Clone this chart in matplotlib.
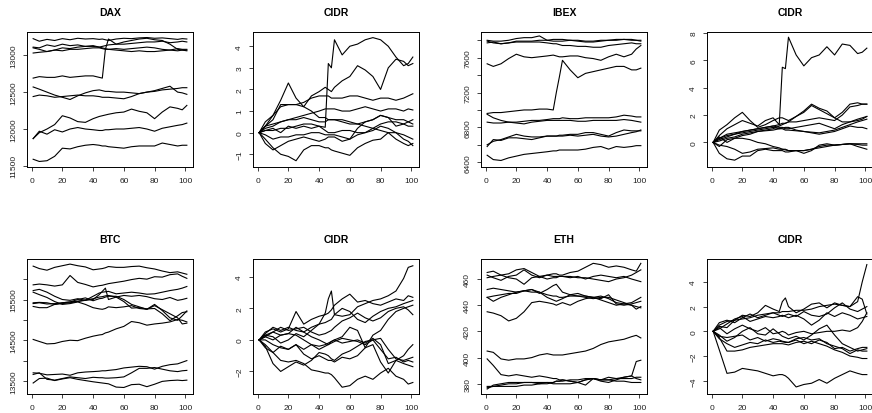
import matplotlib
matplotlib.use("Agg")
import matplotlib.pyplot as plt

plt.rcParams["font.family"] = ["Liberation Sans", "DejaVu Sans"]

# shared time index (sampled from the 1..101 steps)
X = [1, 5, 10, 15, 20, 25, 30, 35, 40, 44, 46, 48, 50, 55, 60, 65, 70, 75, 80, 85, 90, 95, 98, 101]

DAX = [
    [13225, 13190, 13215, 13200, 13225, 13210, 13230, 13220, 13225, 13215, 13220, 13210, 13200, 13220, 13230, 13225, 13235, 13240, 13230, 13235, 13225, 13215, 13225, 13220],
    [13110, 13100, 13140, 13120, 13150, 13130, 13140, 13120, 13130, 13110, 13120, 13130, 13140, 13150, 13150, 13160, 13170, 13180, 13180, 13190, 13170, 13180, 13190, 13180],
    [13100, 13080, 13050, 13070, 13100, 13090, 13110, 13120, 13120, 13110, 13100, 13090, 13080, 13070, 13060, 13050, 13060, 13050, 13050, 13060, 13070, 13090, 13080, 13080],
    [13030, 13040, 13050, 13070, 13060, 13080, 13080, 13090, 13100, 13100, 13090, 13080, 13080, 13090, 13080, 13090, 13100, 13110, 13100, 13080, 13070, 13060, 13070, 13060],
    [12690, 12710, 12700, 12700, 12720, 12700, 12710, 12720, 12720, 12700, 12690, 13080, 13220, 13150, 13180, 13200, 13220, 13230, 13210, 13200, 13150, 13080, 13070, 13070],
    [12570, 12540, 12500, 12460, 12430, 12400, 12450, 12490, 12520, 12530, 12520, 12510, 12510, 12500, 12500, 12490, 12480, 12500, 12520, 12550, 12580, 12500, 12490, 12470],
    [12440, 12460, 12450, 12430, 12440, 12450, 12460, 12450, 12450, 12440, 12430, 12430, 12430, 12420, 12410, 12440, 12480, 12500, 12510, 12530, 12540, 12550, 12560, 12560],
    [11870, 11950, 12000, 12060, 12180, 12150, 12100, 12090, 12140, 12170, 12180, 12190, 12200, 12220, 12230, 12270, 12240, 12220, 12140, 12230, 12300, 12280, 12260, 12320],
    [11870, 11970, 11930, 11990, 11960, 12000, 12020, 12000, 11990, 11980, 11980, 11990, 11990, 12000, 12000, 12010, 12020, 12000, 11970, 12010, 12030, 12050, 12060, 12080],
    [11590, 11560, 11570, 11630, 11740, 11730, 11760, 11780, 11790, 11780, 11770, 11770, 11760, 11750, 11740, 11760, 11770, 11770, 11770, 11810, 11790, 11770, 11780, 11780],
]

CIDR_DAX = [
    [0, 0.1, 0.2, 0.0, 0.3, 0.2, 0.3, 0.2, 0.3, 0.25, 3.2, 3.0, 4.3, 3.6, 4.0, 4.1, 4.3, 4.4, 4.3, 4.0, 3.5, 3.1, 3.2, 3.5],
    [0, 0.5, 0.8, 1.5, 2.3, 1.6, 1.2, 1.0, 0.7, 0.7, 0.6, 0.6, 0.6, 0.6, 0.5, 0.4, 0.3, 0.2, 0.1, 0.0, -0.3, -0.5, -0.6, -0.5],
    [0, 0.3, 0.8, 1.2, 1.3, 1.3, 1.2, 1.7, 1.9, 2.1, 2.0, 1.9, 2.1, 2.4, 2.6, 3.1, 2.9, 2.6, 2.0, 3.0, 3.4, 3.3, 3.1, 3.2],
    [0, 0.3, 0.6, 1.3, 1.3, 1.3, 1.4, 1.6, 1.7, 1.7, 1.7, 1.6, 1.6, 1.6, 1.7, 1.7, 1.6, 1.5, 1.6, 1.6, 1.5, 1.6, 1.7, 1.8],
    [0, 0.2, 0.3, 0.5, 0.6, 0.7, 0.8, 0.9, 1.0, 1.1, 1.1, 1.1, 1.1, 1.0, 1.0, 1.1, 1.2, 1.1, 1.0, 1.1, 1.1, 1.0, 1.1, 1.05],
    [0, 0.3, 0.4, 0.5, 0.6, 0.6, 0.7, 0.6, 0.5, 0.5, 0.6, 0.6, 0.6, 0.5, 0.4, 0.4, 0.5, 0.6, 0.8, 0.7, 0.6, 0.6, 0.5, 0.6],
    [0, 0.1, 0.1, 0.2, 0.2, 0.3, 0.4, 0.4, 0.3, 0.1, 0.0, 0.0, 0.0, 0.1, 0.1, 0.0, 0.0, 0.2, 0.4, 0.5, 0.5, 0.4, 0.3, 0.3],
    [0, -0.1, -0.3, -0.2, -0.2, -0.1, -0.1, 0.0, 0.0, -0.1, -0.1, -0.1, -0.1, -0.2, -0.3, -0.1, 0.0, 0.1, 0.3, 0.2, 0.0, -0.1, -0.2, -0.3],
    [0, -0.3, -0.7, -1.0, -1.1, -1.3, -0.8, -0.6, -0.6, -0.7, -0.7, -0.8, -0.85, -0.95, -1.05, -0.7, -0.5, -0.35, -0.3, 0.0, 0.0, -0.3, -0.4, -0.6],
    [0, -0.5, -0.8, -0.6, -0.4, -0.3, -0.2, -0.3, -0.4, -0.3, -0.2, -0.2, -0.2, -0.4, -0.3, 0.2, 0.5, 0.6, 0.8, 0.7, 0.3, 0.4, 0.5, 0.4],
]

IBEX = [
    [7800, 7790, 7790, 7800, 7820, 7830, 7830, 7850, 7800, 7810, 7810, 7810, 7810, 7800, 7790, 7780, 7780, 7790, 7800, 7800, 7810, 7810, 7800, 7800],
    [7770, 7780, 7760, 7770, 7790, 7790, 7790, 7800, 7800, 7790, 7790, 7790, 7790, 7800, 7800, 7790, 7790, 7800, 7800, 7810, 7810, 7800, 7800, 7790],
    [7790, 7770, 7760, 7770, 7780, 7780, 7780, 7780, 7770, 7760, 7760, 7750, 7740, 7740, 7730, 7730, 7720, 7720, 7740, 7750, 7760, 7770, 7760, 7760],
    [7530, 7500, 7530, 7590, 7640, 7610, 7600, 7610, 7620, 7630, 7620, 7610, 7610, 7620, 7620, 7600, 7590, 7570, 7610, 7640, 7610, 7640, 7700, 7740],
    [6960, 6970, 6970, 6980, 6990, 7000, 7000, 7010, 7010, 7000, 7200, 7380, 7570, 7460, 7370, 7420, 7440, 7460, 7480, 7500, 7500, 7460, 7460, 7480],
    [6950, 6910, 6880, 6860, 6850, 6840, 6860, 6870, 6880, 6880, 6880, 6880, 6880, 6880, 6870, 6870, 6880, 6880, 6880, 6880, 6890, 6880, 6870, 6860],
    [6860, 6850, 6850, 6860, 6860, 6870, 6880, 6880, 6890, 6900, 6900, 6900, 6910, 6900, 6900, 6910, 6910, 6910, 6910, 6920, 6940, 6930, 6920, 6920],
    [6600, 6640, 6660, 6690, 6720, 6700, 6690, 6690, 6700, 6700, 6700, 6710, 6710, 6720, 6720, 6740, 6740, 6720, 6700, 6740, 6770, 6760, 6760, 6760],
    [6580, 6660, 6650, 6680, 6680, 6670, 6660, 6680, 6700, 6700, 6700, 6700, 6700, 6710, 6700, 6710, 6720, 6700, 6690, 6700, 6720, 6740, 6750, 6770],
    [6480, 6430, 6420, 6450, 6470, 6490, 6500, 6510, 6520, 6530, 6530, 6540, 6540, 6540, 6540, 6550, 6570, 6580, 6550, 6580, 6570, 6580, 6590, 6590],
]

CIDR_IBEX = [
    [0, 0.5, 1.0, 1.3, 1.6, 1.4, 1.2, 1.6, 1.8, 1.3, 5.5, 5.4, 7.7, 6.4, 5.6, 6.2, 6.4, 7.0, 6.4, 7.2, 7.1, 6.5, 6.6, 6.9],
    [0, 0.9, 1.3, 1.8, 2.2, 1.6, 1.1, 1.3, 1.6, 1.8, 1.8, 1.7, 1.6, 1.9, 2.3, 2.8, 2.5, 2.3, 1.8, 2.2, 2.8, 2.9, 2.8, 2.8],
    [0, 0.3, 0.6, 0.7, 0.8, 0.9, 1.0, 1.1, 1.2, 1.3, 1.4, 1.4, 1.5, 1.5, 1.6, 1.7, 1.8, 1.7, 1.6, 2.0, 2.6, 2.7, 2.8, 2.8],
    [0, 0.2, 0.4, 0.6, 0.8, 0.9, 1.0, 1.1, 1.2, 1.1, 1.1, 1.0, 1.0, 1.1, 1.2, 1.3, 1.4, 1.2, 1.0, 1.3, 1.5, 1.7, 1.8, 1.9],
    [0, 0.3, 0.5, 0.6, 0.7, 0.8, 0.9, 1.0, 1.1, 1.0, 1.0, 0.9, 0.9, 0.85, 0.8, 0.75, 0.7, 0.8, 0.9, 1.1, 1.3, 1.5, 1.6, 1.7],
    [0, 0.1, 0.3, 0.4, 0.6, 0.7, 0.8, 0.85, 0.9, 1.0, 1.05, 1.1, 1.1, 0.9, 0.8, 0.7, 0.6, 0.7, 0.8, 1.0, 1.2, 1.1, 1.1, 1.0],
    [0, -0.3, 0.2, 0.3, 0.3, 0.2, 0.0, -0.1, -0.3, -0.4, -0.5, -0.5, -0.6, -0.6, -0.6, -0.5, -0.3, -0.2, -0.2, -0.15, -0.1, -0.1, -0.1, -0.1],
    [0, -0.8, -1.2, -1.3, -1.0, -1.0, -0.6, -0.5, -0.6, -0.6, -0.6, -0.7, -0.7, -0.6, -0.8, -0.6, -0.2, -0.1, -0.2, -0.15, -0.1, -0.3, -0.4, -0.5],
    [0, -0.2, -0.3, -0.5, -0.8, -0.7, -0.5, -0.45, -0.4, -0.5, -0.5, -0.55, -0.6, -0.6, -0.6, -0.5, -0.4, -0.3, -0.2, -0.15, -0.1, -0.15, -0.2, -0.2],
    [0, 0.4, 0.0, 0.3, 0.5, 0.6, 0.8, 0.9, 1.0, 1.2, 1.3, 1.4, 1.5, 1.9, 2.2, 2.7, 2.4, 2.1, 1.8, 1.5, 1.5, 1.6, 1.7, 1.9],
]

BTC = [
    [16320, 16260, 16220, 16290, 16330, 16370, 16330, 16300, 16230, 16250, 16260, 16280, 16310, 16290, 16290, 16310, 16320, 16280, 16250, 16200, 16160, 16180, 16150, 16120],
    [15860, 15880, 15860, 15830, 15860, 16090, 15920, 15870, 15810, 15840, 15850, 15870, 15890, 15920, 15950, 15990, 16020, 16000, 16060, 16050, 16110, 16130, 16070, 16020],
    [15720, 15750, 15680, 15580, 15500, 15480, 15520, 15480, 15580, 15660, 15680, 15690, 15700, 15640, 15660, 15680, 15660, 15630, 15640, 15680, 15720, 15750, 15780, 15820],
    [15400, 15420, 15390, 15400, 15420, 15440, 15460, 15490, 15520, 15560, 15570, 15590, 15600, 15560, 15600, 15580, 15600, 15570, 15520, 15500, 15550, 15480, 15500, 15530],
    [15330, 15300, 15300, 15380, 15400, 15420, 15450, 15480, 15500, 15620, 15700, 15780, 15500, 15560, 15450, 15290, 15300, 15270, 15280, 15150, 14980, 15100, 15180, 15200],
    [15420, 15430, 15420, 15380, 15420, 15440, 15500, 15540, 15470, 15520, 15530, 15560, 15580, 15580, 15500, 15380, 15320, 15260, 15350, 15250, 15150, 15050, 14900, 14920],
    [15680, 15620, 15550, 15450, 15380, 15400, 15440, 15380, 15300, 15270, 15260, 15280, 15320, 15300, 15320, 15350, 15280, 15260, 15380, 15230, 15050, 14990, 15100, 15220],
    [14520, 14470, 14410, 14420, 14470, 14500, 14490, 14550, 14600, 14630, 14640, 14680, 14700, 14780, 14840, 14960, 14930, 14870, 14900, 14920, 14950, 15010, 14990, 14950],
    [13700, 13690, 13650, 13660, 13670, 13640, 13700, 13720, 13730, 13740, 13750, 13750, 13760, 13780, 13820, 13840, 13860, 13850, 13790, 13860, 13900, 13920, 13960, 14000],
    [13660, 13700, 13540, 13520, 13560, 13600, 13580, 13560, 13590, 13580, 13580, 13570, 13570, 13580, 13600, 13700, 13810, 13810, 13830, 13790, 13750, 13730, 13750, 13760],
    [13450, 13560, 13570, 13510, 13550, 13580, 13540, 13510, 13480, 13460, 13450, 13440, 13430, 13350, 13340, 13410, 13420, 13360, 13420, 13490, 13510, 13520, 13510, 13520],
]

CIDR_BTC = [
    [0, 0.4, 0.8, 0.6, 0.8, 0.6, 0.5, 0.8, 1.0, 1.1, 1.2, 1.3, 1.6, 1.5, 1.6, 2.1, 2.3, 2.5, 2.6, 2.8, 3.1, 3.9, 4.6, 4.7],
    [0, 0.3, 0.2, -0.2, 0.0, 0.4, 0.2, 0.6, 1.0, 1.7, 2.6, 3.1, 1.6, 2.0, 1.8, 1.3, 1.1, 1.5, 1.8, 2.0, 2.1, 2.3, 2.4, 2.5],
    [0, 0.5, 0.7, 0.5, 0.7, 1.8, 1.0, 1.3, 1.5, 1.6, 1.7, 1.9, 2.2, 2.6, 2.9, 2.4, 2.5, 2.3, 2.2, 2.4, 2.6, 2.5, 2.8, 2.7],
    [0, 0.2, 0.5, 0.8, 0.6, 0.7, 0.8, 0.5, 0.3, 0.4, 0.5, 0.6, 0.8, 1.2, 1.4, 1.7, 1.4, 1.2, 1.4, 1.8, 2.0, 2.1, 1.9, 1.6],
    [0, 0.3, 0.5, 0.3, 0.4, 0.8, 0.5, 0.2, 0.0, -0.2, -0.3, -0.1, 0.0, 0.2, 0.8, 0.6, -0.5, 0.3, 0.6, 1.3, 1.8, 2.0, 2.1, 2.2],
    [0, 0.0, -0.3, -0.5, -0.6, -0.3, -0.6, -0.3, -0.4, -0.3, -0.2, -0.1, 0.0, -0.2, -0.1, 0.0, -0.2, 0.1, -0.3, -1.5, -1.3, -1.0, -0.6, -0.3],
    [0, 0.2, 0.0, 0.3, 0.4, 0.3, 0.0, -0.3, -0.6, -0.4, -0.3, -0.2, -0.1, 0.1, 0.0, -0.1, -0.3, 0.0, 0.1, -0.6, -1.2, -1.3, -1.2, -1.1],
    [0, -0.5, -0.8, -0.4, -0.6, -0.3, -0.9, -1.2, -1.0, -1.2, -1.3, -1.3, -1.4, -1.1, -1.2, -1.0, -0.5, -0.3, -1.4, -2.1, -1.3, -1.5, -1.6, -1.7],
    [0, -0.4, -1.5, -2.0, -1.7, -1.4, -1.6, -1.3, -0.8, -0.9, -1.0, -1.2, -1.3, -0.9, -0.7, -0.4, -0.1, 0.0, -0.6, -1.2, -1.1, -1.4, -1.3, -1.4],
    [0, -0.3, -0.8, -1.3, -1.4, -1.3, -1.5, -1.9, -2.0, -2.1, -2.1, -2.2, -2.4, -3.0, -2.9, -2.5, -2.3, -2.5, -2.1, -1.8, -2.3, -2.5, -2.8, -2.7],
]

ETH = [
    [465, 466, 463, 464, 467, 468, 465, 462, 463, 464, 464, 463, 463, 465, 466, 469, 472, 471, 469, 470, 469, 467, 466, 472],
    [463, 461, 459, 462, 463, 467, 463, 461, 463, 462, 462, 462, 462, 461, 462, 460, 462, 463, 462, 461, 462, 460, 459, 458],
    [461, 462, 463, 461, 460, 456, 461, 462, 460, 461, 461, 462, 462, 462, 461, 461, 460, 459, 458, 460, 461, 463, 465, 467],
    [452, 453, 452, 451, 450, 451, 452, 449, 452, 455, 456, 453, 450, 448, 447, 447, 446, 447, 445, 442, 441, 440, 439, 438],
    [446, 443, 446, 448, 450, 451, 450, 450, 446, 444, 443, 444, 445, 448, 449, 447, 446, 444, 442, 440, 441, 442, 444, 446],
    [446, 447, 448, 449, 449, 451, 452, 450, 448, 447, 447, 446, 446, 447, 447, 446, 445, 446, 446, 444, 442, 440, 437, 439],
    [435, 434, 432, 428, 430, 435, 442, 443, 442, 441, 440, 441, 442, 440, 443, 445, 446, 445, 448, 441, 440, 441, 442, 443],
    [405, 404, 399, 398, 399, 399, 400, 402, 403, 402, 402, 402, 402, 403, 404, 405, 407, 410, 412, 413, 414, 416, 417, 415],
    [399, 394, 387, 386, 387, 386, 385, 386, 385, 384, 384, 383, 383, 382, 381, 383, 384, 383, 385, 384, 385, 386, 397, 398],
    [377, 378, 379, 380, 380, 381, 381, 381, 381, 381, 382, 382, 382, 383, 383, 384, 384, 383, 383, 384, 384, 384, 385, 385],
    [376, 379, 380, 381, 381, 381, 381, 380, 380, 381, 382, 382, 383, 382, 381, 379, 384, 382, 381, 383, 385, 386, 384, 383],
    [378, 378, 378, 378, 378, 379, 379, 380, 381, 380, 380, 380, 380, 380, 381, 383, 384, 383, 383, 382, 382, 381, 381, 381],
]

CIDR_ETH = [
    [0, 0.5, 0.8, 0.9, 1.0, 1.1, 1.3, 1.4, 1.5, 1.5, 1.6, 1.6, 1.6, 1.7, 1.7, 1.8, 2.0, 2.1, 2.2, 2.1, 2.0, 2.4, 4.0, 5.4],
    [0, 0.4, 0.3, 0.9, 1.3, 1.2, 1.5, 2.1, 1.8, 1.6, 2.4, 2.7, 2.0, 1.5, 1.8, 2.2, 2.3, 1.9, 2.3, 2.1, 2.0, 2.8, 2.6, 1.4],
    [0, 0.7, 0.9, 0.7, 1.1, 1.4, 1.1, 1.3, 1.5, 1.3, 1.2, 1.3, 1.4, 1.2, 1.6, 1.3, 1.2, 1.4, 1.9, 2.3, 1.8, 1.6, 1.8, 2.0],
    [0, 0.2, 0.6, 1.0, 1.2, 0.8, 1.0, 1.2, 1.1, 1.2, 1.3, 1.2, 1.1, 1.3, 1.0, 0.5, 0.9, 1.5, 1.2, 1.5, 1.3, 1.0, 1.1, 1.2],
    [0, 0.3, -0.2, 0.2, 0.5, 0.2, 0.0, 0.3, -0.2, -0.1, 0.0, -0.1, -0.3, -0.1, 0.0, -0.2, -0.1, 0.0, 0.0, 0.1, 0.0, 0.3, 0.8, 1.5],
    [0, -0.3, -0.8, -0.5, 0.0, 0.3, -0.2, -0.3, 0.2, -0.2, -0.4, -0.5, -0.6, -0.4, -0.7, -0.3, 0.2, 0.5, -0.3, -1.0, -1.3, -1.6, -1.5, -1.4],
    [0, -0.4, -0.5, -0.4, -0.3, -0.7, -0.5, -0.8, -0.6, -0.7, -0.8, -0.85, -0.9, -0.6, -0.5, -0.7, -0.6, -1.0, -1.2, -1.4, -1.8, -1.5, -1.6, -1.6],
    [0, -0.6, -1.0, -1.3, -1.1, -0.9, -1.0, -0.7, -0.9, -0.8, -0.85, -0.9, -0.9, -0.7, -1.0, -0.8, -1.0, -1.2, -1.5, -1.7, -2.0, -2.1, -2.2, -2.2],
    [0, -0.5, -1.6, -1.6, -1.5, -1.3, -1.2, -1.1, -1.0, -1.0, -1.0, -1.05, -1.1, -0.9, -0.8, -1.0, -0.7, -0.9, -1.4, -1.3, -1.6, -1.4, -1.3, -1.3],
    [0, -1.5, -3.4, -3.3, -3.0, -3.1, -3.2, -3.4, -3.6, -3.5, -3.5, -3.6, -3.8, -4.5, -4.3, -4.2, -3.9, -4.2, -3.8, -3.5, -3.2, -3.4, -3.5, -3.5],
]

TITLES = ["DAX", "CIDR", "IBEX", "CIDR", "BTC", "CIDR", "ETH", "CIDR"]
SERIES = [DAX, CIDR_DAX, IBEX, CIDR_IBEX, BTC, CIDR_BTC, ETH, CIDR_ETH]
YLIMS = [(11485, 13315), (-1.59, 4.66), (6345, 7895), (-1.8, 8.08),
         (13180, 16495), (-3.43, 5.13), (372.2, 475.3), (-5.07, 5.85)]
YTICKS = [
    [11500, 12000, 12500, 13000],
    [-1, 0, 1, 2, 3, 4],
    [6400, 6600, 6800, 7000, 7200, 7400, 7600, 7800],
    [0, 2, 4, 6, 8],
    [13500, 14000, 14500, 15000, 15500, 16000],
    [-2, 0, 2, 4],
    [380, 400, 420, 440, 460],
    [-4, -2, 0, 2, 4],
]
YLABELS = [
    ["11500", "12000", "12500", "13000"],
    ["\u22121", "0", "1", "2", "3", "4"],
    ["6400", "", "6800", "", "7200", "", "7600", ""],
    ["0", "2", "4", "6", "8"],
    ["13500", "", "14500", "", "15500", ""],
    ["\u22122", "0", "2", "4"],
    ["380", "400", "420", "440", "460"],
    ["\u22124", "\u22122", "0", "2", "4"],
]
XTICKS = [0, 20, 40, 60, 80, 100]

W, H = 872, 414
fig = plt.figure(figsize=(W / 100, H / 100), dpi=100)

lefts = [27, 253, 481, 707]
tops = [33, 260]
pw, ph = 166, 135

for i, (title, series) in enumerate(zip(TITLES, SERIES)):
    row, col = divmod(i, 4)
    ax = fig.add_axes([lefts[col] / W, 1 - (tops[row] + ph) / H, pw / W, ph / H])
    for ys in series:
        ax.plot(X, ys, color="black", linewidth=0.8)
    ax.set_xlim(-3, 105)
    ax.set_ylim(*YLIMS[i])
    ax.set_xticks(XTICKS)
    ax.set_xticklabels([str(t) for t in XTICKS])
    ax.set_yticks(YTICKS[i])
    ax.set_yticklabels(YLABELS[i], rotation=90, va="center")
    ax.tick_params(direction="out", length=3, width=0.6, labelsize=6,
                   pad=4, colors="#222222")
    for sp in ax.spines.values():
        sp.set_linewidth(0.7)
    # the last column runs off the right edge of the original image
    if col == 3:
        ax.spines["right"].set_visible(False)
    ax.set_title(title, fontsize=7.5, fontweight="bold", pad=12)

fig.savefig("out.png", dpi=100)
